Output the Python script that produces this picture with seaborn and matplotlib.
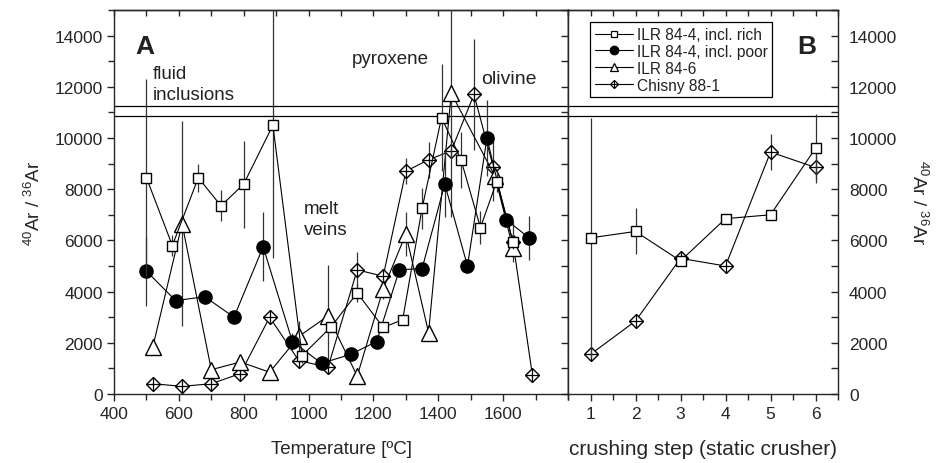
import numpy as np
import pandas as pd
import matplotlib
matplotlib.use("Agg")
import matplotlib.pyplot as plt
from matplotlib.lines import Line2D
from matplotlib.legend_handler import HandlerTuple
from matplotlib.ticker import MultipleLocator
import seaborn as sns

# ---- step-heating data (panel A) ----
rich_T = [500, 580, 660, 730, 800, 890, 980, 1070, 1150, 1230, 1290, 1350, 1410, 1470, 1530, 1580, 1630]
rich_v = [8450, 5800, 8450, 7350, 8200, 10500, 1500, 2630, 3950, 2600, 2900, 7250, 10800, 9150, 6500, 8300, 5950]
rich_e = [3850, 400, 550, 600, 1700, 5200, 300, 200, 350, 0, 0, 800, 2100, 1100, 650, 400, 300]

poor_T = [500, 590, 680, 770, 860, 950, 1040, 1130, 1210, 1280, 1350, 1420, 1490, 1550, 1610, 1680]
poor_v = [4800, 3650, 3800, 3000, 5750, 2050, 1200, 1550, 2050, 4850, 4900, 8200, 5000, 10000, 6800, 6100]
poor_e = [1350, 0, 0, 0, 1350, 350, 0, 0, 0, 0, 0, 1300, 0, 1500, 0, 850]

ilr6_T = [520, 610, 700, 790, 880, 970, 1060, 1150, 1230, 1300, 1370, 1440, 1575, 1630]
ilr6_v = [1850, 6650, 950, 1250, 850, 2250, 3050, 700, 4100, 6250, 2400, 11750, 8500, 5700]
ilr6_e = [300, 4000, 0, 0, 300, 600, 2000, 300, 400, 850, 200, 4850, 0, 0]

chis_T = [520, 610, 700, 790, 880, 970, 1060, 1150, 1230, 1300, 1370, 1440, 1510, 1570, 1630, 1690]
chis_v = [400, 300, 400, 800, 3000, 1300, 1050, 4850, 4600, 8700, 9150, 9500, 11700, 8850, 5950, 750]
chis_e = [0, 0, 0, 0, 0, 0, 0, 700, 250, 500, 700, 0, 2150, 1300, 800, 0]

# ---- crushing data (panel B) ----
steps = [1, 2, 3, 4, 5, 6]
crush_rich_v = [6100, 6350, 5200, 6850, 7000, 9600]
crush_rich_e = [4700, 900, 0, 0, 0, 1350]
crush_chis_v = [1550, 2850, 5300, 5000, 9450, 8850]
crush_chis_e = [0, 0, 0, 0, 700, 500]

# atmospheric band
band = [10850, 11250]

legend_labels = ["ILR 84-4, incl. rich", "ILR 84-4, incl. poor", "ILR 84-6", "Chisny 88-1"]

sns.set_style("ticks")
plt.rcParams["font.family"] = ["Liberation Sans", "DejaVu Sans"]
plt.rcParams["mathtext.fontset"] = "custom"
plt.rcParams["mathtext.rm"] = "Liberation Sans"
plt.rcParams["mathtext.it"] = "Liberation Sans"
plt.rcParams["axes.linewidth"] = 1.0
plt.rcParams["text.color"] = "#222222"

fig = plt.figure(figsize=(9.42, 4.64), dpi=100)
axA = fig.add_axes([0.1210, 0.1487, 0.4820, 0.8276])
axB = fig.add_axes([0.6030, 0.1487, 0.2866, 0.8276])

LW = 0.8
ECOL = "#333333"

STYLES = {
    "sq": dict(marker="s", markersize=7.8, markerfacecolor="white", markeredgecolor="black", markeredgewidth=1.0),
    "ci": dict(marker="o", markersize=9.5, markerfacecolor="black", markeredgecolor="black", markeredgewidth=1.0),
    "tr": dict(marker="^", markersize=11, markerfacecolor="white", markeredgecolor="black", markeredgewidth=1.0),
    "dm": dict(marker="D", markersize=7, markerfacecolor="white", markeredgecolor="black", markeredgewidth=1.0),
}


def draw_series(ax, x, y, e, kind, z):
    e = np.asarray(e, dtype=float)
    x = np.asarray(x, dtype=float)
    y = np.asarray(y, dtype=float)
    m = e > 0
    ax.errorbar(x[m], y[m], yerr=e[m], fmt="none", ecolor=ECOL, elinewidth=0.9, capsize=0, zorder=z)
    df = pd.DataFrame({"x": x, "y": y})
    sns.lineplot(data=df, x="x", y="y", ax=ax, sort=False, estimator=None, color="black",
                 linewidth=LW, zorder=z + 0.5, **STYLES[kind])
    if kind == "dm":
        ax.plot(x, y, linestyle="none", marker="+", markersize=9.5, markeredgewidth=0.9,
                color="black", zorder=z + 0.6)


# panel A
draw_series(axA, chis_T, chis_v, chis_e, "dm", 3)
draw_series(axA, ilr6_T, ilr6_v, ilr6_e, "tr", 4)
draw_series(axA, poor_T, poor_v, poor_e, "ci", 5)
draw_series(axA, rich_T, rich_v, rich_e, "sq", 6)

# panel B
draw_series(axB, steps, crush_chis_v, crush_chis_e, "dm", 3)
draw_series(axB, steps, crush_rich_v, crush_rich_e, "sq", 4)

for ax in (axA, axB):
    for b in band:
        ax.axhline(b, color="black", linewidth=0.9, zorder=2)
    ax.set_ylim(0, 15000)
    ax.set_xlabel("")
    ax.set_ylabel("")
    for s in ax.spines.values():
        s.set_visible(True)
        s.set_linewidth(1.0)

TICKFS = 12.5

# ---- axis A ----
axA.set_xlim(400, 1800)
axA.xaxis.set_minor_locator(MultipleLocator(100))
axA.yaxis.set_major_locator(MultipleLocator(2000))
axA.yaxis.set_minor_locator(MultipleLocator(1000))
axA.set_xticks([400, 600, 800, 1000, 1200, 1400, 1600])
axA.tick_params(axis="both", which="major", direction="out", length=5, width=1.0, labelsize=TICKFS,
                top=False, right=False)
axA.tick_params(axis="both", which="minor", direction="out", length=4, width=1.0, top=False, right=False)
axA.yaxis.set_tick_params(pad=3)
secAx = axA.secondary_xaxis("top")
secAx.xaxis.set_major_locator(MultipleLocator(100))
secAx.tick_params(direction="in", length=4, width=1.0, labeltop=False)
secAy = axA.secondary_yaxis("right")
secAy.yaxis.set_major_locator(MultipleLocator(1000))
secAy.tick_params(direction="in", length=5, width=1.0, labelright=False)
for s in (secAx, secAy):
    for sp in s.spines.values():
        sp.set_linewidth(1.0)

axA.set_xlabel("Temperature [ºC]", fontsize=13.5, labelpad=14)
axA.set_ylabel(r"$^{40}$Ar / $^{36}$Ar", fontsize=13.5, labelpad=8)

# ---- axis B ----
axB.set_xlim(0.5, 6.5)
axB.set_xticks(steps)
axB.xaxis.set_minor_locator(MultipleLocator(0.5))
axB.yaxis.set_major_locator(MultipleLocator(2000))
axB.yaxis.set_minor_locator(MultipleLocator(1000))
axB.tick_params(axis="x", which="major", direction="out", length=5, width=1.0, labelsize=TICKFS, top=False)
axB.tick_params(axis="x", which="minor", direction="out", length=4, width=1.0, top=False)
axB.tick_params(axis="y", which="both", direction="in", length=5, width=1.0, labelsize=TICKFS,
                left=False, labelleft=False, right=True, labelright=True, pad=8)
secBx = axB.secondary_xaxis("top")
secBx.xaxis.set_major_locator(MultipleLocator(0.5))
secBx.tick_params(direction="in", length=4, width=1.0, labeltop=False)
axB.yaxis.set_label_position("right")
axB.set_xlabel("crushing step (static crusher)", fontsize=15, labelpad=13)
axB.set_ylabel(r"$^{40}$Ar / $^{36}$Ar", fontsize=13.5, rotation=270, labelpad=22)

# ---- annotations ----
axA.text(0.046, 0.905, "A", transform=axA.transAxes, fontsize=19, fontweight="bold", va="center", ha="left")
axB.text(0.885, 0.905, "B", transform=axB.transAxes, fontsize=19, fontweight="bold", va="center", ha="center")
axA.text(520, 12120, "fluid\ninclusions", fontsize=13.5, va="center", ha="left", linespacing=1.3)
axA.text(1134, 13100, "pyroxene", fontsize=13.5, va="center", ha="left")
axA.text(1532, 12330, "olivine", fontsize=14, va="center", ha="left")
axA.text(985, 6850, "melt\nveins", fontsize=13.5, va="center", ha="left", linespacing=1.3)

# ---- legend ----
h_rich = Line2D([], [], color="black", linewidth=LW, marker="s", markersize=5,
                markerfacecolor="white", markeredgecolor="black", markeredgewidth=0.9)
h_poor = Line2D([], [], color="black", linewidth=LW, marker="o", markersize=6,
                markerfacecolor="black", markeredgecolor="black")
h_ilr6 = Line2D([], [], color="black", linewidth=LW, marker="^", markersize=6,
                markerfacecolor="white", markeredgecolor="black", markeredgewidth=0.9)
h_chD = Line2D([], [], color="black", linewidth=LW, marker="D", markersize=4.5,
               markerfacecolor="white", markeredgecolor="black", markeredgewidth=0.9)
h_chP = Line2D([], [], color="black", linewidth=0, marker="+", markersize=6, markeredgewidth=0.8)
leg = axB.legend([h_rich, h_poor, h_ilr6, (h_chD, h_chP)], legend_labels,
                 handler_map={tuple: HandlerTuple(ndivide=1, pad=0)},
                 loc="upper left", bbox_to_anchor=(0.081, 0.968), fontsize=11.2,
                 frameon=True, fancybox=False, edgecolor="black", framealpha=1,
                 handlelength=2.5, handletextpad=0.2, labelspacing=0.12, borderpad=0.3,
                 borderaxespad=0.0)
leg.get_frame().set_linewidth(0.9)
leg.set_zorder(10)

fig.savefig("out.png", dpi=100)
